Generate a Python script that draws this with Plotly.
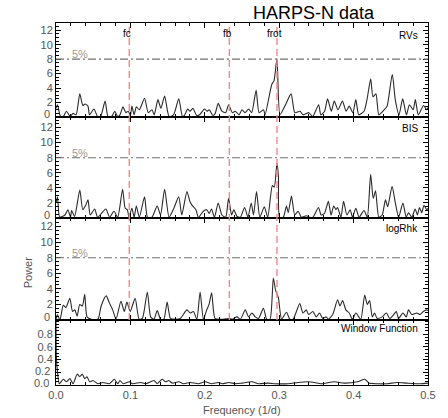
import plotly.graph_objects as go

# ---------------- data ----------------
rv_freq = [0.000, 0.002, 0.006, 0.010, 0.014, 0.019, 0.023, 0.027, 0.032, 0.036, 0.039, 0.043, 0.045, 0.051, 0.056,
           0.060, 0.066, 0.070, 0.075, 0.079, 0.083, 0.086, 0.090, 0.094, 0.097, 0.100, 0.102, 0.105, 0.108, 0.112,
           0.119, 0.124, 0.129, 0.132, 0.137, 0.141, 0.146, 0.152, 0.158, 0.165, 0.170, 0.173, 0.177, 0.180, 0.184,
           0.189, 0.193, 0.1995, 0.203, 0.206, 0.211, 0.214, 0.218, 0.223, 0.228, 0.232, 0.237, 0.241, 0.246, 0.250,
           0.254, 0.259, 0.263, 0.269, 0.273, 0.279, 0.281, 0.290, 0.293, 0.297, 0.301, 0.308, 0.316, 0.321, 0.328,
           0.332, 0.340, 0.345, 0.353, 0.356, 0.361, 0.365, 0.370, 0.374, 0.379, 0.385, 0.390, 0.394, 0.399, 0.403,
           0.407, 0.414, 0.418, 0.423, 0.426, 0.430, 0.434, 0.441, 0.445, 0.452, 0.456, 0.461, 0.466, 0.471, 0.475,
           0.480, 0.483, 0.487, 0.494, 0.498, 0.500]
rv_power = [1.2, 1.7, 0.1, 0.1, 0.8, 0.1, 0.5, 0.3, 3.2, 1.6, 1.8, 1.5, 0.3, 1.1, 0.05,
            0.1, 2.2, 0.05, 0.1, 0.8, 0.05, 0.3, 1.4, 0.6, 0.8, 0.2, 1.5, 0.3, 1.4, 1.0,
            2.6, 0.6, 1.0, 0.3, 2.4, 1.2, 2.9, 0.05, 0.3, 2.5, 0.05, 0.3, 1.1, 0.8, 1.2,
            0.2, 0.3, 1.1, 0.8, 1.0, 0.2, 0.5, 1.9, 0.8, 0.6, 1.7, 0.6, 0.8, 0.3, 1.0,
            0.6, 1.1, 0.6, 3.7, 0.6, 1.0, 0.3, 4.5, 5.0, 8.05, 0.3, 1.6, 3.2, 0.6, 0.8,
            0.3, 0.6, 0.05, 1.7, 0.3, 0.8, 2.5, 0.8, 2.2, 1.0, 2.2, 0.8, 1.5, 0.6, 2.4,
            0.3, 0.8, 2.4, 5.3, 2.8, 3.2, 0.3, 1.0, 1.5, 5.9, 2.4, 0.3, 2.5, 0.3, 1.7,
            1.0, 2.4, 0.3, 1.6, 1.0, 1.3]

bis_freq = [0.000, 0.002, 0.005, 0.012, 0.016, 0.0195, 0.021, 0.025, 0.032, 0.036, 0.040, 0.043, 0.046, 0.052, 0.056,
            0.067, 0.072, 0.078, 0.083, 0.0895, 0.093, 0.096, 0.098, 0.102, 0.105, 0.108, 0.112, 0.119, 0.123, 0.129,
            0.136, 0.1405, 0.146, 0.152, 0.158, 0.165, 0.169, 0.176, 0.180, 0.1835, 0.188, 0.1915, 0.198, 0.2026, 0.206,
            0.209, 0.213, 0.218, 0.223, 0.228, 0.232, 0.236, 0.239, 0.2433, 0.2478, 0.2535, 0.258, 0.2624, 0.2655, 0.2695,
            0.274, 0.280, 0.2846, 0.2908, 0.2934, 0.297, 0.299, 0.3005, 0.3054, 0.3098, 0.3121, 0.3165, 0.3209, 0.3254,
            0.3298, 0.3364, 0.3408, 0.3453, 0.3528, 0.3564, 0.3608, 0.3661, 0.3697, 0.3732, 0.3763, 0.3785, 0.383,
            0.3865, 0.391, 0.3954, 0.3985, 0.403, 0.4074, 0.414, 0.4184, 0.4229, 0.4264, 0.4295, 0.4339, 0.4384, 0.4428,
            0.4459, 0.4517, 0.4561, 0.4605, 0.4663, 0.4707, 0.4738, 0.4783, 0.4827, 0.4858, 0.4885, 0.4916, 0.4947,
            0.4982, 0.500]
bis_power = [2.0, 2.8, 0.1, 0.4, 1.1, 0.1, 1.0, 0.2, 3.7, 1.1, 1.7, 2.4, 0.4, 1.2, 0.1,
             1.2, 0.1, 0.9, 0.1, 3.8, 1.3, 1.1, 0.1, 1.3, 0.1, 1.6, 0.1, 2.8, 0.1, 0.1,
             1.6, 0.4, 3.8, 0.1, 1.2, 2.8, 0.4, 3.5, 2.2, 1.6, 1.1, 0.1, 0.9, 1.1, 0.6,
             1.2, 0.1, 2.0, 0.4, 0.1, 2.6, 0.4, 1.1, 0.2, 0.1, 1.4, 0.1, 2.0, 0.4, 3.5,
             0.1, 1.5, 0.1, 4.3, 4.1, 7.3, 5.4, 0.1, 0.1, 1.6, 0.7, 2.9, 0.4, 0.9,
             0.1, 0.3, 0.1, 0.1, 1.4, 0.4, 0.6, 2.2, 0.4, 1.6, 1.1, 1.4, 0.1,
             2.2, 0.4, 1.1, 0.1, 1.3, 0.1, 1.0, 0.1, 5.8, 2.6, 3.6, 0.1, 0.4, 2.4,
             1.5, 4.2, 2.0, 0.1, 2.0, 0.1, 0.7, 0.1, 1.2, 0.4, 1.4, 0.7, 1.7,
             1.1, 1.3]

rhk_freq = [0.000, 0.0018, 0.0053, 0.0098, 0.0133, 0.0186, 0.0222, 0.0253, 0.0284, 0.0319, 0.0355, 0.0386, 0.0417,
            0.0474, 0.0563, 0.0607, 0.0674, 0.0718, 0.0762, 0.0807, 0.0873, 0.0918, 0.0953, 0.0997, 0.1064, 0.1117,
            0.1161, 0.1228, 0.1272, 0.1316, 0.1361, 0.1405, 0.1449, 0.1494, 0.1538, 0.1605, 0.1671, 0.176, 0.1804,
            0.1848, 0.1893, 0.1937, 0.1981, 0.2026, 0.2057, 0.2092, 0.2137, 0.2203, 0.2234, 0.2323, 0.2367, 0.2433,
            0.2478, 0.2544, 0.2589, 0.2633, 0.2677, 0.2722, 0.2788, 0.2832, 0.2877, 0.2921, 0.2952, 0.2988, 0.3032,
            0.3098, 0.3143, 0.3187, 0.3276, 0.332, 0.3364, 0.3395, 0.3453, 0.3497, 0.3542, 0.3586, 0.363, 0.3661,
            0.3719, 0.3785, 0.3816, 0.3852, 0.3896, 0.3941, 0.3985, 0.403, 0.4096, 0.4149, 0.4184, 0.4215, 0.4251,
            0.4282, 0.4317, 0.4384, 0.4441, 0.4486, 0.4539, 0.4574, 0.4605, 0.4663, 0.4707, 0.4738, 0.4783, 0.4849,
            0.4894, 0.4938, 0.4982, 0.500]
rhk_power = [0.0, 0.7, 0.0, 1.9, 1.6, 2.8, 1.1, 1.3, 0.5, 2.0, 1.8, 3.3, 0.4,
             0.1, 0.1, 1.8, 3.1, 2.2, 1.3, 0.1, 2.4, 1.1, 2.3, 1.1, 2.8, 0.1,
             0.2, 3.6, 0.4, 0.1, 1.2, 0.1, 0.1, 2.3, 0.2, 0.1, 0.2, 1.3, 0.9,
             1.1, 0.1, 3.6, 0.1, 1.3, 2.0, 3.5, 0.2, 0.1, 0.1, 0.2, 0.1, 0.4,
             0.1, 1.3, 0.4, 0.9, 0.4, 0.2, 1.5, 0.1, 0.1, 5.4, 3.8, 2.9, 0.1,
             1.0, 0.1, 0.1, 2.1, 0.9, 1.3, 0.7, 1.1, 0.4, 0.9, 0.2, 0.4, 0.1,
             0.7, 2.6, 1.8, 2.5, 1.3, 0.9, 0.1, 0.9, 0.1, 3.2, 2.0, 2.5, 0.4,
             0.9, 0.2, 0.4, 0.9, 0.2, 0.7, 1.1, 0.2, 0.9, 0.4, 1.3, 0.7, 0.9,
             0.7, 1.1, 1.3, 1.2]

win_freq = [0.000, 0.0005, 0.0018, 0.0045, 0.0098, 0.0142, 0.0186, 0.023, 0.0284, 0.0319, 0.0355, 0.0386, 0.0417,
            0.0452, 0.0496, 0.0563, 0.0629, 0.0718, 0.0785, 0.0829, 0.086, 0.0904, 0.0984, 0.1028, 0.1139, 0.1206,
            0.1316, 0.1361, 0.1427, 0.1472, 0.1516, 0.156, 0.1649, 0.1715, 0.1804, 0.1915, 0.2004, 0.2092, 0.2181,
            0.2234, 0.2323, 0.2411, 0.25, 0.2633, 0.2722, 0.2855, 0.2943, 0.3121, 0.3254, 0.3387, 0.3475, 0.3564,
            0.3741, 0.3874, 0.4051, 0.4149, 0.4206, 0.4317, 0.445, 0.4583, 0.4716, 0.4894, 0.500]
win_power = [1.0, 0.45, 0.23, 0.02, 0.09, 0.05, 0.1, 0.02, 0.17, 0.13, 0.17, 0.1, 0.13,
             0.05, 0.07, 0.02, 0.04, 0.02, 0.09, 0.02, 0.07, 0.02, 0.05, 0.02, 0.04, 0.02,
             0.07, 0.02, 0.09, 0.05, 0.07, 0.03, 0.05, 0.02, 0.04, 0.02, 0.05, 0.02, 0.04,
             0.02, 0.04, 0.02, 0.03, 0.05, 0.02, 0.03, 0.02, 0.02, 0.04, 0.05, 0.04, 0.02,
             0.05, 0.03, 0.05, 0.09, 0.03, 0.02, 0.02, 0.04, 0.03, 0.02, 0.03]

mark_freq = [0.0985, 0.233, 0.297]
mark_labels = ["fc", "fb", "frot"]
fap_level = 8.0
fap_label = "5%"
panel_names = ["RVs", "BIS", "logRhk", "Window Function"]
power_ticks = [0, 2, 4, 6, 8, 10, 12]
win_ticks = [0.0, 0.2, 0.4, 0.6, 0.8]
freq_ticks = [0.0, 0.1, 0.2, 0.3, 0.4, 0.5]

# ---------------- layout geometry ----------------
W, H = 448, 418
ML, MR, MT, MB = 56, 16, 23, 33
plot_h = H - MT - MB
plot_w = W - ML - MR
bounds_px = [23, 117, 218, 320, 385]  # panel edges from top
doms = []
for i in range(4):
    top = (H - MB - bounds_px[i]) / plot_h
    bot = (H - MB - bounds_px[i + 1]) / plot_h
    doms.append([bot, top])

FONT = "Liberation Sans, Arial, sans-serif"
fig = go.Figure()
series = [(rv_freq, rv_power), (bis_freq, bis_power), (rhk_freq, rhk_power), (win_freq, win_power)]
for i, (fx, py) in enumerate(series):
    fig.add_trace(go.Scatter(x=fx, y=py, mode="lines",
                             line=dict(color="#2a2a2a", width=1.1, shape="spline", smoothing=0.6),
                             xaxis="x" if i == 0 else f"x{i+1}",
                             yaxis="y" if i == 0 else f"y{i+1}",
                             showlegend=False, hoverinfo="skip"))

tickfont = dict(family=FONT, size=11, color="#555555")
axis_common = dict(showline=True, linecolor="black", linewidth=1, mirror="ticks",
                   ticks="inside", tickcolor="black", ticklen=5, tickwidth=1,
                   showgrid=False, zeroline=False, tickfont=tickfont)

layout = dict(width=W, height=H, margin=dict(l=ML, r=MR, t=MT, b=MB),
              paper_bgcolor="white", plot_bgcolor="white")

ranges = [[0, 13], [0, 13.4], [0, 13.1], [0, 1.02]]
for i in range(4):
    yk = "yaxis" if i == 0 else f"yaxis{i+1}"
    xk = "xaxis" if i == 0 else f"xaxis{i+1}"
    xa = "x" if i == 0 else f"x{i+1}"
    ya = "y" if i == 0 else f"y{i+1}"
    if i < 3:
        layout[yk] = dict(axis_common, domain=doms[i], range=ranges[i], anchor=xa,
                          tickvals=power_ticks, ticktext=["" if v == 0 else str(v) for v in power_ticks],
                          minor=dict(ticks="inside", ticklen=3, dtick=0.5, tickcolor="black"))
    else:
        layout[yk] = dict(axis_common, domain=doms[i], range=ranges[i], anchor=xa,
                          tickvals=win_ticks, ticktext=["" if v < 0.3 else f"{v:.1f}" for v in win_ticks],
                          minor=dict(ticks="inside", ticklen=3, dtick=0.05, tickcolor="black"))
    layout[xk] = dict(axis_common, domain=[0, 1], range=[0, 0.5], anchor=ya,
                      tickvals=freq_ticks, ticktext=[f"{v:.1f}" for v in freq_ticks],
                      showticklabels=(i == 3),
                      minor=dict(ticks="inside", ticklen=3, dtick=0.02, tickcolor="black"))
    if i > 0:
        layout[xk]["matches"] = "x"
fig.update_layout(**layout)

shapes = []
annotations = []
# zero labels, lifted slightly above the panel bottom (as in the original)
for i in range(3):
    ya = "y" if i == 0 else f"y{i+1}"
    annotations.append(dict(x=0, y=0, xref="x", yref=ya, text="0", showarrow=False,
                            font=tickfont, xanchor="right", yanchor="middle",
                            xshift=-4, yshift=3))
# crowded low labels of the window-function panel
annotations.append(dict(x=0, y=win_ticks[1], xref="x", yref="y4", text=f"{win_ticks[1]:.1f}", showarrow=False,
                        font=tickfont, xanchor="right", yanchor="middle", xshift=-4, yshift=2, height=11))
annotations.append(dict(x=0, y=win_ticks[0], xref="x", yref="y4", text=f"{win_ticks[0]:.1f}", showarrow=False,
                        font=tickfont, xanchor="right", yanchor="middle", xshift=-5, yshift=3, height=11))
# red dashed markers across panels 1-3
for fv, lab in zip(mark_freq, mark_labels):
    shapes.append(dict(type="line", xref="x", yref="paper", x0=fv, x1=fv, y0=doms[2][0], y1=doms[0][1],
                       line=dict(color="#f28a8a", width=1.4, dash="7px,4px")))
    annotations.append(dict(x=fv, y=11.6, xref="x", yref="y", text=lab, showarrow=False,
                            font=dict(family=FONT, size=10, color="black"),
                            xanchor="center", yanchor="middle", xshift=-2))
# 5% levels
for i in range(3):
    ya = "y" if i == 0 else f"y{i+1}"
    shapes.append(dict(type="line", xref="paper", yref=ya, x0=0, x1=1, y0=fap_level, y1=fap_level,
                       line=dict(color="#707070", width=1.1, dash="8px,3px,2px,3px")))
    annotations.append(dict(x=0.032, y=fap_level, xref="x", yref=ya, text=fap_label, showarrow=False,
                            font=dict(family=FONT, size=11, color="#999999"),
                            xanchor="center", yanchor="bottom", yshift=-3))
# panel names
name_y = [11.3, 11.9, 11.8, 0.88]
for i, nm in enumerate(panel_names):
    ya = "y" if i == 0 else f"y{i+1}"
    annotations.append(dict(x=0.489, y=name_y[i], xref="x", yref=ya, text=nm, showarrow=False,
                            font=dict(family=FONT, size=10, color="black"),
                            xanchor="right", yanchor="middle"))
# titles
annotations.append(dict(x=(317 - ML) / plot_w, y=(H - MB - 13) / plot_h, xref="paper", yref="paper",
                        text="HARPS-N data", showarrow=False,
                        font=dict(family=FONT, size=18, color="black"),
                        xanchor="center", yanchor="middle"))
annotations.append(dict(x=0.5, y=(H - MB - 410) / plot_h, xref="paper", yref="paper",
                        text="Frequency (1/d)", showarrow=False,
                        font=dict(family=FONT, size=11, color="#555555"),
                        xanchor="center", yanchor="middle"))
annotations.append(dict(x=(28 - ML) / plot_w, y=(H - MB - 272) / plot_h, xref="paper", yref="paper",
                        text="Power", showarrow=False, textangle=-90,
                        font=dict(family=FONT, size=11, color="#555555"),
                        xanchor="center", yanchor="middle"))
fig.update_layout(shapes=shapes, annotations=annotations)

fig.write_html("out.html")
